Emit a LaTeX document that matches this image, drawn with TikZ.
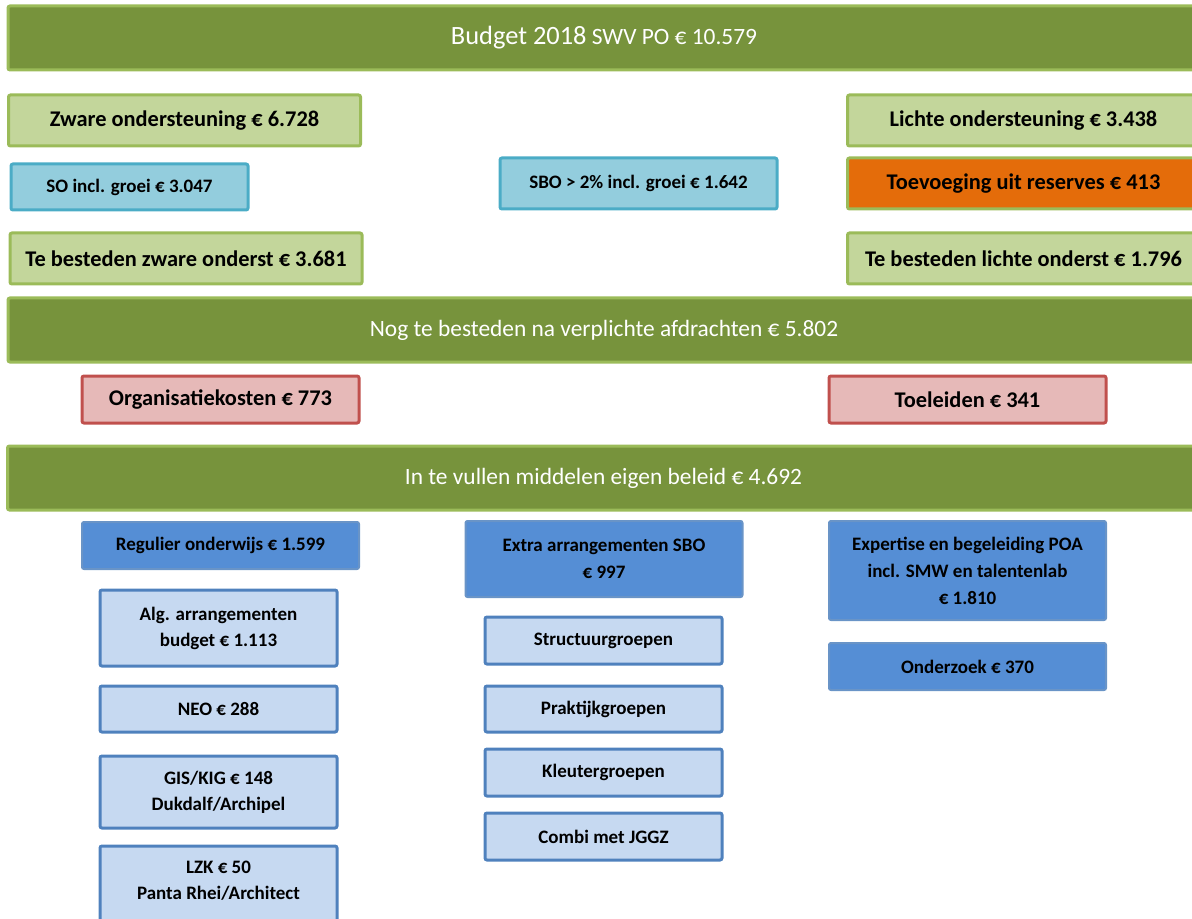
\documentclass[tikz,border=0pt]{standalone}
\usepackage{fontspec}
\setmainfont{Carlito}
\usetikzlibrary{positioning}
\definecolor{bargreen}{HTML}{77933C}
\definecolor{rimgreen}{HTML}{9BBB59}
\definecolor{palegreen}{HTML}{C3D69B}
\definecolor{aqua}{HTML}{93CDDD}
\definecolor{rimaqua}{HTML}{4BACC6}
\definecolor{orange}{HTML}{E46C0A}
\definecolor{rose}{HTML}{E6B9B8}
\definecolor{rimrose}{HTML}{C0504D}
\definecolor{midblue}{HTML}{558ED5}
\definecolor{rimblue}{HTML}{4F81BD}
\definecolor{paleblue}{HTML}{C6D9F1}

\begin{document}
\begin{tikzpicture}[x=0.5pt,y=-0.5pt,
every node/.style={rectangle,draw,line width=1.5pt,inner sep=0pt,rounded corners=1pt,align=center,font=\fontsize{11.2}{13}\selectfont\bfseries},
bar/.style={fill=bargreen,draw=rimgreen,text=white,minimum width=596pt,minimum height=32pt,font=\fontsize{11.7}{13}\selectfont},
light/.style={fill=palegreen,draw=rimgreen,minimum width=176pt,minimum height=25.5pt},
reserve/.style={fill=orange,draw=rimgreen,minimum width=176pt,minimum height=25.5pt},
aquabox/.style={fill=aqua,draw=rimaqua,font=\fontsize{9.5}{13}\selectfont\bfseries},
cost/.style={fill=rose,draw=rimrose,minimum width=138.5pt,minimum height=23.5pt},
budget/.style={fill=midblue,draw=rimblue!85,minimum width=138.5pt,line width=1pt,font=\fontsize{9.5}{13.5}\selectfont\bfseries},
part/.style={fill=paleblue,draw=rimblue,minimum width=118.5pt,font=\fontsize{9.5}{13}\selectfont\bfseries}]
\useasboundingbox (0,0) rectangle (1192,919);

% totaal
\node[bar] (bud) at (604,38) {{\fontsize{13.2}{13}\selectfont Budget 2018} SWV PO € 10.579};

% zware en lichte ondersteuning
\node[light] (zware) at (184.5,120.5) {Zware ondersteuning € 6.728};
\node[light] (lichte) at (1023.5,120.5) {Lichte ondersteuning € 3.438};
\node[aquabox,minimum width=118.5pt,minimum height=23pt] (so) at (129.5,187) {SO incl. groei € 3.047};
\node[aquabox,minimum width=138.5pt,minimum height=25.5pt] (sbo) at (638.5,183.5) {SBO > 2\% incl. groei € 1.642};
\node[reserve] (toev) at (1023.5,183.5) {Toevoeging uit reserves € 413};
\node[light] (tbz) at (186,258.5) {Te besteden zware onderst € 3.681};
\node[light] (tbl) at (1023.5,258.5) {Te besteden lichte onderst € 1.796};

% afdrachten
\node[bar] (nog) at (604,330) {Nog te besteden na verplichte afdrachten € 5.802};
\node[cost] (org) at (220.5,399.5) {Organisatiekosten € 773};
\node[cost] (toel) at (967.5,399.5) {Toeleiden € 341};

% eigen beleid
\node[bar] (inv) at (603.5,478) {In te vullen middelen eigen beleid € 4.692};
\node[budget,minimum height=23.5pt] (reg) at (220.5,545.5) {Regulier onderwijs € 1.599};
\node[part,minimum height=38pt] (alg) at (218.5,628) {Alg. arrangementen\\budget € 1.113};
\node[part,minimum height=23pt] (neo) at (218.5,709) {NEO € 288};
\node[part,minimum height=36pt] (gis) at (218.5,792) {GIS/KIG € 148\\Dukdalf/Archipel};
\node[part,minimum height=47pt] (lzk) at (218.5,893) {LZK € 50\\Panta Rhei/Architect\\~};

\node[budget,minimum height=38pt] (extra) at (604,559) {Extra arrangementen SBO\\€ 997};
\node[part,minimum height=23.5pt] (struc) at (603.5,640.5) {Structuurgroepen};
\node[part,minimum height=23pt] (prak) at (603.5,709) {Praktijkgroepen};
\node[part,minimum height=23.5pt] (kleut) at (603.5,772.5) {Kleutergroepen};
\node[part,minimum height=23.5pt] (combi) at (603.5,836.5) {Combi met JGGZ};

\node[budget,minimum height=49.5pt] (exp) at (967.5,570.5) {Expertise en begeleiding POA\\incl. SMW en talentenlab\\€ 1.810};
\node[budget,minimum height=23.5pt] (ond) at (967.5,666.5) {Onderzoek € 370};
\end{tikzpicture}
\end{document}
